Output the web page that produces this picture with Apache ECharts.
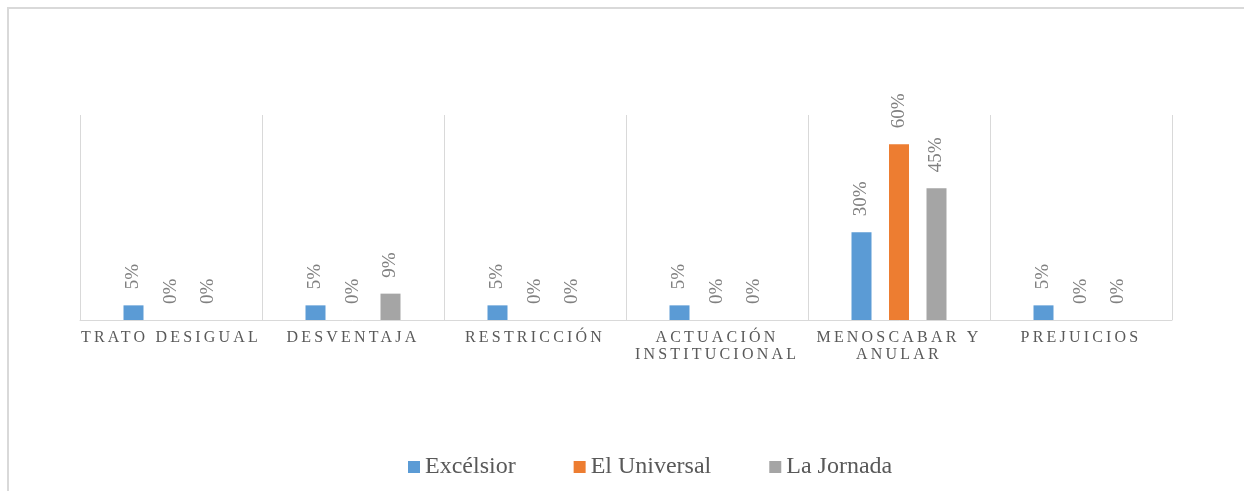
<!DOCTYPE html>
<html>
<head>
<meta charset="utf-8">
<script src="https://cdn.jsdelivr.net/npm/echarts@6/dist/echarts.min.js"></script>
<style>
  html, body { margin: 0; padding: 0; background: #fff; }
  #chart { width: 1244px; height: 491px; }
</style>
</head>
<body>
<div id="chart"></div>
<script>
// data
const categories = ['TRATO DESIGUAL', 'DESVENTAJA', 'RESTRICCIÓN', 'ACTUACIÓN\nINSTITUCIONAL', 'MENOSCABAR Y\nANULAR', 'PREJUICIOS']
const seriesNames = ['Excélsior', 'El Universal', 'La Jornada']
const excelsior = [5, 5, 5, 5, 30, 5]
const elUniversal = [0, 0, 0, 0, 60, 0]
const laJornada = [0, 9, 0, 0, 45, 0]
const colors = ['#5B9BD5', '#ED7D31', '#A5A5A5']

const font = 'Liberation Serif'
// category labels get a second family name so they can be spotted and letter-spaced
const spacedFont = 'Liberation Serif, Times New Roman'

// the category labels are letter-spaced in the original; canvas has letterSpacing
const fontDesc = Object.getOwnPropertyDescriptor(CanvasRenderingContext2D.prototype, 'font')
Object.defineProperty(CanvasRenderingContext2D.prototype, 'font', {
  get() { return fontDesc.get.call(this) },
  set(v) {
    fontDesc.set.call(this, v)
    if ('letterSpacing' in this) {
      this.letterSpacing = String(v).indexOf('Times New Roman') !== -1 ? '3.2px' : '0px'
    }
  }
})

const chart = echarts.init(document.getElementById('chart'))

function barSeries(name, data) {
  return {
    name: name,
    type: 'bar',
    barWidth: 20,
    barGap: '87.5%',
    data: data,
    label: {
      show: true,
      position: 'top',
      rotate: 90,
      align: 'left',
      verticalAlign: 'middle',
      distance: 16,
      formatter: '{c}%',
      fontFamily: font,
      fontSize: 19,
      color: '#808080'
    }
  }
}

chart.setOption({
  animation: false,
  color: colors,
  textStyle: { fontFamily: font },
  graphic: [
    {
      type: 'rect',
      shape: { x: 8, y: 8, width: 1400, height: 700 },
      style: { fill: 'none', stroke: '#d9d9d9', lineWidth: 2 },
      silent: true
    }
  ],
  grid: {
    left: 80,
    right: 72,
    top: 115,
    bottom: 171
  },
  legend: {
    left: 408,
    top: 455,
    padding: 0,
    itemWidth: 12,
    itemHeight: 12,
    itemGap: 58,
    icon: 'rect',
    textStyle: {
      fontFamily: font,
      fontSize: 24,
      color: '#595959'
    },
    data: seriesNames
  },
  xAxis: {
    type: 'category',
    data: categories,
    axisLine: { lineStyle: { color: '#d9d9d9', width: 1 } },
    axisTick: { show: false },
    splitLine: { show: true, lineStyle: { color: '#d9d9d9', width: 1 } },
    axisLabel: {
      interval: 0,
      margin: 9,
      fontFamily: spacedFont,
      fontSize: 16,
      lineHeight: 17,
      color: '#595959'
    }
  },
  yAxis: {
    type: 'value',
    min: 0,
    max: 70,
    show: false,
    splitLine: { show: false }
  },
  series: [
    barSeries(seriesNames[0], excelsior),
    barSeries(seriesNames[1], elUniversal),
    barSeries(seriesNames[2], laJornada)
  ]
})
</script>
</body>
</html>
